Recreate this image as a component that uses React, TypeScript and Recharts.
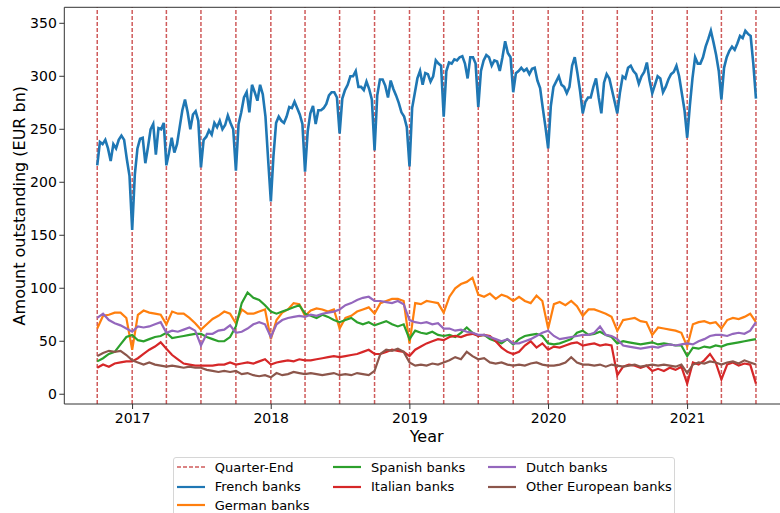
import React from 'react';
import { LineChart, Line, XAxis, YAxis, ReferenceLine, Legend } from 'recharts';

// Quarter-end dates (dashed reference lines) and x-axis year ticks
const quarterEnds = [
  '2016-09-30', '2016-12-31', '2017-03-31', '2017-06-30', '2017-09-30', '2017-12-31',
  '2018-03-31', '2018-06-30', '2018-09-30', '2018-12-31', '2019-03-31', '2019-06-30',
  '2019-09-30', '2019-12-31', '2020-03-31', '2020-06-30', '2020-09-30', '2020-12-31',
  '2021-03-31', '2021-06-30',
];
const yearTicks = ['2017', '2018', '2019', '2020', '2021'];
const yTicks = [0, 50, 100, 150, 200, 250, 300, 350];

const seriesNames = ['French banks', 'German banks', 'Spanish banks', 'Italian banks', 'Dutch banks', 'Other European banks'];

// French banks: 13 samples per quarter (weekly), starting at first quarter end
const frenchBanks = [
  216,
  238, 236, 240, 232, 220, 236, 232, 240, 244, 240, 222, 206, 155,
  207, 232, 241, 242, 218, 233, 250, 255, 226, 251, 250, 256, 216,
  228, 242, 228, 236, 252, 268, 278, 266, 250, 264, 267, 258, 214,
  240, 243, 249, 245, 256, 252, 258, 250, 254, 263, 256, 250, 211,
  255, 266, 280, 285, 266, 292, 285, 277, 292, 283, 262, 221, 182,
  225, 256, 262, 258, 256, 262, 271, 270, 276, 270, 264, 255, 210,
  248, 265, 272, 255, 268, 268, 270, 274, 282, 285, 285, 280, 246,
  279, 287, 292, 300, 300, 305, 290, 290, 287, 295, 288, 278, 230,
  282, 297, 297, 291, 280, 296, 288, 282, 275, 266, 262, 252, 215,
  270, 284, 298, 305, 292, 303, 302, 295, 300, 315, 312, 310, 262,
  305, 313, 312, 316, 315, 318, 319, 312, 298, 318, 318, 312, 271,
  305, 315, 320, 318, 310, 315, 314, 305, 318, 333, 322, 318, 285,
  303, 305, 308, 305, 307, 302, 307, 308, 296, 289, 270, 252, 232,
  272, 290, 295, 300, 292, 290, 284, 290, 310, 318, 303, 286, 265,
  276, 280, 280, 290, 298, 280, 265, 294, 302, 298, 287, 276, 265,
  285, 300, 298, 308, 310, 305, 302, 293, 300, 304, 313, 296, 284,
  292, 300, 298, 285, 290, 297, 302, 304, 310, 300, 284, 268, 242,
  272, 298, 318, 312, 312, 318, 328, 335, 343, 332, 320, 305, 278,
  308, 318, 324, 328, 325, 331, 338, 336, 343, 340, 338, 312, 279,
];

// Other series: 6 samples per quarter
const germanBanks = [
  62,
  74, 75, 77, 77, 72, 42,
  75, 79, 77, 76, 75, 66,
  78, 76, 76, 72, 67, 61,
  66, 71, 74, 78, 76, 67,
  80, 76, 76, 78, 80, 52,
  70, 77, 80, 86, 85, 74,
  79, 81, 80, 78, 80, 62,
  72, 74, 78, 80, 82, 76,
  86, 88, 90, 90, 88, 48,
  86, 85, 88, 87, 86, 77,
  92, 100, 104, 106, 110, 94,
  92, 95, 90, 94, 92, 88,
  92, 88, 86, 93, 88, 62,
  85, 87, 84, 88, 83, 74,
  80, 80, 78, 76, 73, 60,
  70, 71, 72, 69, 68, 56,
  63, 62, 61, 60, 58, 45,
  66, 68, 69, 67, 68, 62,
  70, 72, 71, 73, 76, 68,
];

const spanishBanks = [
  31,
  34, 38, 40, 47, 54, 56,
  51, 50, 52, 54, 55, 58,
  53, 54, 55, 56, 57, 57,
  54, 52, 50, 50, 54, 64,
  86, 96, 91, 89, 84, 78,
  76, 78, 80, 82, 84, 76,
  74, 72, 75, 73, 70, 68,
  70, 72, 68, 66, 68, 65,
  67, 69, 66, 64, 66, 52,
  60, 58, 57, 59, 56, 55,
  56, 54, 58, 63, 58, 55,
  56, 52, 50, 48, 52, 47,
  52, 55, 56, 57, 55, 48,
  47, 48, 50, 52, 58, 60,
  56, 57, 59, 56, 54, 48,
  50, 49, 48, 47, 48, 49,
  47, 48, 47, 46, 46, 36,
  44, 43, 45, 44, 46, 45,
  47, 48, 49, 50, 51, 52,
];

const italianBanks = [
  25,
  28, 26, 29, 30, 31, 31,
  34, 38, 42, 45, 49, 43,
  37, 33, 29, 28, 27, 27,
  27, 27, 28, 28, 30, 28,
  29, 30, 29, 31, 33, 28,
  30, 31, 32, 31, 33, 32,
  32, 33, 34, 35, 36, 35,
  36, 37, 38, 40, 42, 38,
  38, 40, 42, 41, 40, 36,
  42, 45, 48, 50, 52, 51,
  54, 55, 54, 56, 57, 55,
  56, 55, 50, 44, 40, 38,
  40, 46, 50, 44, 48, 42,
  45, 44, 46, 48, 49, 46,
  47, 48, 46, 47, 46, 18,
  26, 28, 27, 25, 27, 22,
  24, 22, 25, 23, 26, 10,
  30, 28, 32, 38, 30, 14,
  28, 30, 27, 29, 28, 10,
];

const dutchBanks = [
  72,
  76, 70, 67, 65, 62, 59,
  64, 63, 64, 66, 68, 58,
  60, 59, 61, 63, 60, 46,
  57, 57, 60, 61, 65, 58,
  59, 62, 66, 68, 66, 54,
  66, 70, 72, 73, 74, 73,
  75, 74, 76, 77, 78, 80,
  84, 86, 89, 91, 92, 88,
  88, 87, 86, 88, 85, 70,
  68, 67, 68, 66, 67, 62,
  62, 60, 61, 59, 58, 56,
  56, 54, 52, 50, 52, 48,
  48, 50, 52, 55, 58, 60,
  55, 52, 53, 54, 55, 56,
  56, 58, 64, 56, 55, 52,
  46, 45, 44, 43, 44, 45,
  44, 46, 47, 46, 47, 48,
  47, 50, 52, 55, 56, 56,
  55, 57, 58, 57, 60, 68,
];

const otherBanks = [
  36,
  39, 41, 40, 41, 37, 32,
  30, 28, 30, 28, 27, 26,
  27, 26, 25, 26, 25, 25,
  23, 22, 21, 22, 21, 22,
  19, 20, 18, 17, 18, 16,
  20, 18, 19, 21, 20, 19,
  20, 19, 18, 19, 20, 18,
  19, 18, 20, 19, 18, 22,
  38, 42, 41, 43, 40, 30,
  27, 28, 27, 29, 28, 30,
  32, 35, 33, 40, 36, 33,
  34, 30, 29, 30, 28, 27,
  28, 27, 29, 30, 28, 27,
  27, 28, 30, 35, 30, 28,
  28, 27, 28, 26, 28, 27,
  26, 27, 28, 26, 27, 28,
  27, 28, 27, 26, 28, 20,
  28, 30, 29, 31, 30, 28,
  30, 31, 29, 32, 30, 28,
];

const COLORS = ['#1f77b4', '#ff7f0e', '#2ca02c', '#d62728', '#9467bd', '#8c564b'];
const QE_COLOR = '#cf5b5b';
const FONT = '"DejaVu Sans", Verdana, sans-serif';

const toDay = (s: string) => Date.parse(s + 'T00:00:00Z') / 86400000;
const qDays = quarterEnds.map(toDay);

const build = (values: number[], steps: number) =>
  values.map((v, i) => {
    const q = Math.floor(i / steps);
    const s = i % steps;
    if (q >= qDays.length - 1) return { t: qDays[qDays.length - 1], v };
    const a = qDays[q];
    const b = qDays[q + 1];
    return { t: a + ((b - a) * s) / steps, v };
  });

const seriesData = [
  build(frenchBanks, 13),
  build(germanBanks, 6),
  build(spanishBanks, 6),
  build(italianBanks, 6),
  build(dutchBanks, 6),
  build(otherBanks, 6),
];

const first = qDays[0];
const last = qDays[qDays.length - 1];
const pad = (last - first) * 0.05;
const xDomain: [number, number] = [first - pad, last + pad];
const yDomain: [number, number] = [-9.2, 365.1];
const xTicks = yearTicks.map((y) => toDay(y + '-01-01'));

const legendEntries = [
  { label: 'Quarter-End', color: QE_COLOR, dashed: true },
  ...seriesNames.map((n, i) => ({ label: n, color: COLORS[i], dashed: false })),
];
const COL_X = [2.4, 158.7, 313.7];
const ROW_Y = [9, 28.4, 47.2];
const colRow = (i: number) => (i < 3 ? [0, i] : i < 5 ? [1, i - 3] : [2, i - 5]);

const renderLegend = () => (
  <div
    style={{
      position: 'relative',
      width: 502,
      height: 70,
      border: '1px solid #d6d6d6',
      borderRadius: 3,
      background: 'rgba(255,255,255,0.85)',
      boxSizing: 'border-box',
      fontFamily: FONT,
      fontSize: 13,
      color: '#000',
    }}
  >
    {legendEntries.map((e, i) => {
      const [c, r] = colRow(i);
      return (
        <div
          key={e.label}
          style={{
            position: 'absolute',
            left: COL_X[c],
            top: ROW_Y[r] - 9,
            height: 18,
            display: 'flex',
            alignItems: 'center',
            whiteSpace: 'nowrap',
          }}
        >
          <svg width={28} height={4} style={{ marginRight: 10, display: 'block' }}>
            <line
              x1={0}
              y1={2}
              x2={28}
              y2={2}
              stroke={e.color}
              strokeWidth={e.dashed ? 1.5 : 2.2}
              strokeDasharray={e.dashed ? '4 2' : undefined}
            />
          </svg>
          <span>{e.label}</span>
        </div>
      );
    })}
  </div>
);

export default function App() {
  return (
    <div
      style={{
        position: 'absolute',
        left: 0,
        top: 0,
        width: 780,
        height: 513,
        overflow: 'hidden',
        background: '#fff',
        fontFamily: FONT,
      }}
    >
      <LineChart
        width={800}
        height={513}
        margin={{ top: 7.3, right: 11.1, bottom: 64, left: 0.3 }}
      >
        <XAxis
          dataKey="t"
          type="number"
          domain={xDomain}
          ticks={xTicks}
          allowDataOverflow
          tickFormatter={(d: number) => String(new Date(d * 86400000).getUTCFullYear())}
          tick={{ fontSize: 14, fill: '#000', fontFamily: FONT }}
          tickSize={5}
          tickMargin={4.3}
          height={45}
          stroke="#333"
          axisLine={{ stroke: '#333', strokeWidth: 1 }}
          tickLine={{ stroke: '#333', strokeWidth: 1 }}
          label={{ value: 'Year', position: 'insideBottom', offset: 7, fontSize: 16, fill: '#000', fontFamily: FONT }}
        />
        <YAxis
          type="number"
          domain={yDomain}
          ticks={yTicks}
          allowDataOverflow
          width={64}
          tick={{ fontSize: 14, fill: '#000', fontFamily: FONT }}
          tickSize={5}
          tickMargin={2.5}
          axisLine={{ stroke: '#333', strokeWidth: 1 }}
          tickLine={{ stroke: '#333', strokeWidth: 1 }}
          label={{
            value: 'Amount outstanding (EUR bn)',
            angle: -90,
            position: 'insideLeft',
            offset: 19.5,
            fontSize: 16,
            fill: '#000',
            fontFamily: FONT,
            style: { textAnchor: 'middle' },
          }}
        />
        {qDays.map((d) => (
          <ReferenceLine key={d} x={d} stroke={QE_COLOR} strokeWidth={1.5} strokeDasharray="4 2" zIndex={-10} />
        ))}
        <ReferenceLine y={yDomain[1]} stroke="#333" strokeWidth={1} />
        {seriesData.map((data, i) => (
          <Line
            key={seriesNames[i]}
            data={data}
            dataKey="v"
            name={seriesNames[i]}
            type="linear"
            stroke={COLORS[i]}
            strokeWidth={i === 0 ? 2.6 : 2.2}
            dot={false}
            activeDot={false}
            isAnimationActive={false}
          />
        ))}
        <Legend
          layout="horizontal"
          verticalAlign="middle"
          align="center"
          content={renderLegend}
          wrapperStyle={{ position: 'absolute', left: 173.3, top: 457.3, width: 502, height: 70 }}
        />
      </LineChart>
    </div>
  );
}
